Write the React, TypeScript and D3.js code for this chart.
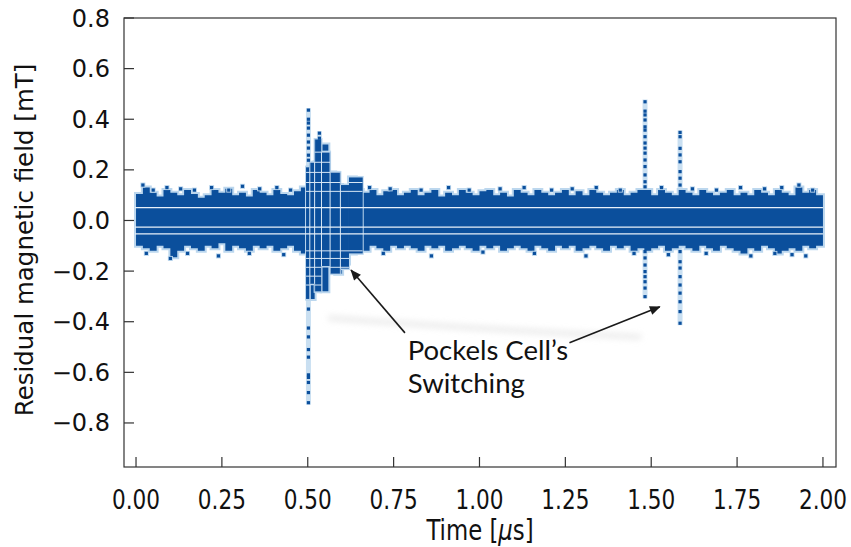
import React from 'react';
import * as d3 from 'd3';

const W = 851;
const H = 547;
const FRAME = { left: 124, right: 836, top: 18, bottom: 467 };
const X_DOMAIN: [number, number] = [-0.035, 2.038];
const Y_DOMAIN: [number, number] = [-0.974, 0.8];

const xTicks = [0, 0.25, 0.5, 0.75, 1.0, 1.25, 1.5, 1.75, 2.0];
const xTickLabels = ['0.00', '0.25', '0.50', '0.75', '1.00', '1.25', '1.50', '1.75', '2.00'];
const yTicks = [0.8, 0.6, 0.4, 0.2, 0.0, -0.2, -0.4, -0.6, -0.8];
const yTickLabels = ['0.8', '0.6', '0.4', '0.2', '0.0', '\u22120.2', '\u22120.4', '\u22120.6', '\u22120.8'];

// Noise band envelope, one value per 0.02 µs bin (t = 0 .. 2.00)
const bandTimes = d3.range(0, 101).map((i) => +(i * 0.02).toFixed(2));
const bandUpper = [
  0.105, 0.13, 0.11, 0.095, 0.12, 0.11, 0.10, 0.12, 0.105, 0.09,
  0.10, 0.12, 0.11, 0.125, 0.10, 0.11, 0.095, 0.12, 0.11, 0.10,
  0.12, 0.105, 0.10, 0.115, 0.13, 0.21, 0.23, 0.30, 0.19, 0.14,
  0.13, 0.17, 0.12, 0.11, 0.12, 0.10, 0.115, 0.12, 0.10, 0.11,
  0.12, 0.10, 0.11, 0.12, 0.095, 0.11, 0.10, 0.12, 0.11, 0.10,
  0.115, 0.12, 0.10, 0.11, 0.095, 0.12, 0.11, 0.10, 0.12, 0.11,
  0.10, 0.11, 0.12, 0.10, 0.115, 0.10, 0.12, 0.11, 0.10, 0.11,
  0.12, 0.10, 0.11, 0.12, 0.12, 0.10, 0.12, 0.11, 0.10, 0.12,
  0.11, 0.10, 0.12, 0.11, 0.10, 0.11, 0.12, 0.10, 0.11, 0.10,
  0.12, 0.11, 0.10, 0.12, 0.11, 0.10, 0.13, 0.11, 0.12, 0.10,
  0.10,
];
const bandLower = [
  -0.10, -0.11, -0.12, -0.10, -0.11, -0.145, -0.12, -0.10, -0.11, -0.12,
  -0.10, -0.11, -0.09, -0.12, -0.10, -0.11, -0.12, -0.10, -0.11, -0.10,
  -0.12, -0.11, -0.10, -0.12, -0.13, -0.31, -0.25, -0.28, -0.18, -0.21,
  -0.17, -0.13, -0.11, -0.12, -0.10, -0.11, -0.12, -0.10, -0.11, -0.10,
  -0.11, -0.12, -0.10, -0.11, -0.10, -0.12, -0.11, -0.10, -0.11, -0.12,
  -0.10, -0.11, -0.10, -0.12, -0.11, -0.10, -0.11, -0.12, -0.10, -0.11,
  -0.12, -0.10, -0.11, -0.10, -0.12, -0.11, -0.10, -0.11, -0.12, -0.10,
  -0.11, -0.10, -0.12, -0.11, -0.12, -0.11, -0.10, -0.12, -0.11, -0.10,
  -0.11, -0.12, -0.10, -0.11, -0.12, -0.10, -0.11, -0.12, -0.13, -0.11,
  -0.12, -0.10, -0.11, -0.13, -0.12, -0.11, -0.12, -0.10, -0.11, -0.10,
  -0.10,
];

// quantisation gaps seen as white lines through the band
const gapLevels = [0.051, -0.026, -0.053];

// dense columns around the first Pockels cell switching
const burstT0 = [0.495, 0.506, 0.52, 0.54, 0.565, 0.595, 0.62];
const burstT1 = [0.506, 0.52, 0.54, 0.565, 0.595, 0.62, 0.66];
const burstTop = [0.21, 0.23, 0.32, 0.27, 0.19, 0.14, 0.17];
const burstBottom = [-0.31, -0.25, -0.28, -0.18, -0.21, -0.19, -0.13];
// grid-like gaps inside the burst
const burstGapLevels = [0.27, 0.23, 0.19, 0.15, 0.115, -0.12, -0.15, -0.185, -0.22, -0.255];
const burstGapTimes = [0.506, 0.52, 0.54, 0.565, 0.595];

// needle spikes
const needleT = [0.502, 0.534, 1.482, 1.584];
const needleTop = [0.436, 0.345, 0.47, 0.348];
const needleBottom = [-0.72, -0.28, -0.30, -0.406];
const needleDots: number[][] = [
  [0.436, 0.40, 0.385, 0.365, 0.337, 0.31, 0.286, 0.258, 0.238, -0.35, -0.425, -0.46, -0.51, -0.54, -0.61, -0.62, -0.64, -0.68, -0.72],
  [0.345, 0.325],
  [0.469, 0.432, 0.417, 0.397, 0.37, 0.357, 0.331, 0.306, 0.286, 0.266, 0.239, 0.213, 0.18, 0.153, 0.133,
    -0.123, -0.148, -0.176, -0.202, -0.222, -0.242, -0.267, -0.301],
  [0.348, 0.331, 0.285, 0.259, 0.232, 0.193, 0.167, 0.14,
    -0.123, -0.163, -0.188, -0.222, -0.255, -0.287, -0.321, -0.36, -0.406],
];

// sparse outliers outside the band
const outT = [0.02, 0.05, 0.09, 0.13, 0.17, 0.22, 0.27, 0.31, 0.36, 0.41, 0.45, 0.68, 0.74, 0.83, 0.91,
  0.97, 1.06, 1.13, 1.21, 1.27, 1.34, 1.41, 1.53, 1.62, 1.69, 1.76, 1.83, 1.88, 1.93, 1.97,
  0.03, 0.10, 0.15, 0.24, 0.33, 0.43, 0.72, 0.86, 1.01, 1.16, 1.31, 1.45, 1.55, 1.66, 1.79, 1.86, 1.91, 1.95];
const outV = [0.14, 0.12, 0.13, 0.125, 0.12, 0.13, 0.12, 0.135, 0.125, 0.13, 0.12, 0.13, 0.125, 0.12, 0.13,
  0.12, 0.125, 0.13, 0.12, 0.125, 0.13, 0.12, 0.13, 0.125, 0.12, 0.13, 0.125, 0.13, 0.14, 0.12,
  -0.13, -0.15, -0.13, -0.14, -0.13, -0.135, -0.13, -0.14, -0.125, -0.13, -0.14, -0.13, -0.135, -0.13, -0.14, -0.13, -0.135, -0.14];

// annotation (data coordinates)
const annText = ['Pockels\u00a0Cell\u2019s', 'Switching'];
const annTextPos = [0.791, -0.55];
const arrowFrom = [[0.783, -0.444], [1.262, -0.483]];
const arrowTo = [[0.626, -0.196], [1.525, -0.341]];

const DARK = '#0b4f9c';
const HALO = '#bcd7ee';
const DV = { fontFamily: "'DejaVu Sans', sans-serif" };
const ANN = { fontFamily: "Lato, 'Open Sans', sans-serif" };
const SQX = 0.8; // horizontal squeeze of the x-axis text

export default function App() {
  const x = d3.scaleLinear().domain(X_DOMAIN).range([FRAME.left, FRAME.right]);
  const y = d3.scaleLinear().domain(Y_DOMAIN).range([FRAME.bottom, FRAME.top]);

  const bandArea = d3
    .area<number>()
    .x((_, i) => x(bandTimes[i]))
    .y0((_, i) => y(bandLower[i]))
    .y1((d) => y(d))
    .curve(d3.curveStepAfter);
  const bandPath = bandArea(bandUpper) || '';
  const ms = 3.2;
  const bx0 = x(burstT0[0]);
  const bx1 = x(burstT1[burstT1.length - 1]);

  return (
    <div style={{ position: 'absolute', left: 0, top: 0 }}>
      <svg width={W} height={H} style={{ display: 'block', background: '#fff' }}>
        <defs>
          <filter id="blur" x="-20%" y="-200%" width="140%" height="500%">
            <feGaussianBlur stdDeviation="3" />
          </filter>
          <marker id="ah" viewBox="0 0 12 10" refX="11" refY="5" markerWidth="12" markerHeight="9" markerUnits="userSpaceOnUse" orient="auto">
            <path d="M0,0 L12,5 L0,10 Z" fill="#1a1a1a" />
          </marker>
          <clipPath id="burstClip">
            {burstT0.map((t, i) => (
              <rect key={'bc' + i} x={x(t)} width={x(burstT1[i]) - x(t)} y={y(burstTop[i])} height={y(burstBottom[i]) - y(burstTop[i])} />
            ))}
          </clipPath>
        </defs>

        {/* faint smudge under annotation */}
        <path
          d={`M${x(0.56)},${y(-0.385)} Q${x(1.0)},${y(-0.43)} ${x(1.47)},${y(-0.46)}`}
          stroke="#dcdcdc"
          strokeWidth={5}
          fill="none"
          filter="url(#blur)"
          opacity={0.6}
        />

        {/* needle background columns */}
        {needleT.map((t, i) => (
          <rect key={'nb' + i} x={x(t) - 2.5} width={5} y={y(needleTop[i]) - 2} height={y(needleBottom[i]) - y(needleTop[i]) + 4} fill={HALO} opacity={0.8} />
        ))}

        {/* band halo and fill */}
        <path d={bandPath} fill={HALO} stroke={HALO} strokeWidth={4} />
        <path d={bandPath} fill={DARK} />

        {/* burst columns */}
        {burstT0.map((t, i) => (
          <rect key={'bh' + i} x={x(t) - 1} width={x(burstT1[i]) - x(t) + 2} y={y(burstTop[i]) - 1.5} height={y(burstBottom[i]) - y(burstTop[i]) + 3} fill={HALO} />
        ))}
        {burstT0.map((t, i) => (
          <rect key={'b' + i} x={x(t)} width={x(burstT1[i]) - x(t)} y={y(burstTop[i])} height={y(burstBottom[i]) - y(burstTop[i])} fill={DARK} />
        ))}
        <g clipPath="url(#burstClip)">
          {burstGapLevels.map((v, i) => (
            <line key={'bgl' + i} x1={bx0} x2={bx1} y1={y(v)} y2={y(v)} stroke="#d6e6f5" strokeWidth={1} />
          ))}
          {burstGapTimes.map((t, i) => (
            <line key={'bgt' + i} x1={x(t)} x2={x(t)} y1={y(0.35)} y2={y(-0.35)} stroke="#d6e6f5" strokeWidth={1} />
          ))}
        </g>

        {/* needle dots */}
        {needleT.map((t, i) =>
          needleDots[i].map((v, j) => (
            <rect key={`nd${i}-${j}`} x={x(t) - ms / 2} y={y(v) - ms / 2} width={ms} height={ms} fill={DARK} />
          ))
        )}

        {/* sparse outliers */}
        {outT.map((t, i) => (
          <g key={'o' + i}>
            <rect x={x(t) - 2.5} y={y(outV[i]) - 2.5} width={5} height={5} fill={HALO} />
            <rect x={x(t) - ms / 2} y={y(outV[i]) - ms / 2} width={ms} height={ms} fill={DARK} />
          </g>
        ))}

        {/* quantisation gaps */}
        {gapLevels.map((v, i) => (
          <line key={'g' + i} x1={x(0) - 1} x2={x(2.0)} y1={y(v)} y2={y(v)} stroke="#e8f1fa" strokeWidth={1.3} />
        ))}

        {/* frame */}
        <rect x={FRAME.left} y={FRAME.top} width={FRAME.right - FRAME.left} height={FRAME.bottom - FRAME.top} fill="none" stroke="#333" strokeWidth={1.2} />

        {/* y ticks */}
        {yTicks.map((v, i) => (
          <g key={'yt' + i}>
            <line x1={FRAME.left} x2={FRAME.left + 10} y1={y(v)} y2={y(v)} stroke="#333" strokeWidth={1.2} />
            <text x={FRAME.left - 14} y={y(v) + 8.5} textAnchor="end" style={DV} fontSize={24} fill="#111">
              {yTickLabels[i]}
            </text>
          </g>
        ))}

        {/* x ticks */}
        {xTicks.map((v, i) => (
          <g key={'xt' + i}>
            <line x1={x(v)} x2={x(v)} y1={FRAME.bottom} y2={FRAME.bottom - 10} stroke="#333" strokeWidth={1.2} />
            <text transform={`translate(${x(v)},${FRAME.bottom + 42}) scale(${SQX},1)`} textAnchor="middle" style={DV} fontSize={27} fill="#111">
              {xTickLabels[i]}
            </text>
          </g>
        ))}

        {/* axis labels */}
        <text transform={`translate(${33},${240}) rotate(-90)`} textAnchor="middle" style={DV} fontSize={24.5} fill="#111">
          Residual magnetic field [mT]
        </text>
        <text transform={`translate(${480},${540}) scale(${SQX},1)`} textAnchor="middle" style={DV} fontSize={28.5} fill="#111">
          Time [<tspan fontStyle="italic">μ</tspan>s]
        </text>

        {/* annotation arrows */}
        {arrowFrom.map((p, i) => (
          <line key={'a' + i} x1={x(p[0])} y1={y(p[1])} x2={x(arrowTo[i][0])} y2={y(arrowTo[i][1])} stroke="#1a1a1a" strokeWidth={1.6} markerEnd="url(#ah)" />
        ))}
        {annText.map((s, i) => (
          <text key={'at' + i} x={x(annTextPos[0])} y={y(annTextPos[1]) + i * 33} style={ANN} fontSize={27.5} fill="#111">
            {s}
          </text>
        ))}
      </svg>
    </div>
  );
}
